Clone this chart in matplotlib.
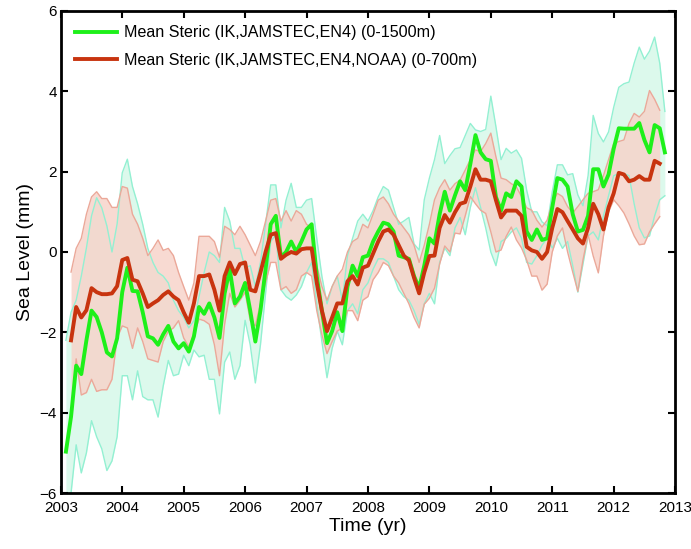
import numpy as np
import matplotlib
matplotlib.use("Agg")
import matplotlib.pyplot as plt

plt.rcParams['font.family'] = ['Liberation Sans', 'DejaVu Sans']

# monthly time axis, Feb 2003 .. Nov 2012
months = 2003 + np.arange(1, 119) / 12.0
nan = np.nan

# Mean steric 0-1500m (IK, JAMSTEC, EN4)
green_mean = [
    -4.97, -4.1, -2.83, -3.04, -2.2, -1.46, -1.62, -2.0, -2.5, -2.6, -2.15,
    -1.0, -0.39, -0.97, -0.98, -1.5, -2.1, -2.15, -2.31, -2.05, -1.84, -2.23, -2.4,
    -2.27, -2.48, -2.1, -1.37, -1.54, -1.28, -1.63, -2.14, -1.03, -0.43, -1.28, -1.11,
    -0.77, -1.46, -2.23, -1.46, -0.43, 0.69, 0.9, -0.13, 0.0, 0.26, 0.0, 0.26,
    0.56, 0.69, -0.6, -1.46, -2.27, -1.97, -1.5, -1.97, -0.86, -0.34, -0.6, -0.13,
    -0.09, 0.26, 0.51, 0.73, 0.69, 0.51, -0.09, -0.13, -0.17, -0.6, -0.9, -0.34,
    0.34, 0.21, 0.94, 1.5, 1.03, 1.41, 1.76, 1.54, 2.19, 2.91, 2.48, 2.31,
    2.27, 1.37, 1.03, 1.46, 1.37, 1.76, 1.63, 0.51, 0.3, 0.56, 0.3, 0.34,
    1.11, 1.84, 1.8, 1.63, 0.94, 0.51, 0.55, 0.9, 2.06, 2.06, 1.63, 1.93,
    2.57, 3.08, 3.07, 3.07, 3.07, 3.21, 2.79, 2.48, 3.16, 3.08, 2.48,
]
green_upper = [
    -2.2, -1.5, -1.2, -0.6, 0.1, 0.9, 1.35, 1.1, 0.65, 0.0, 0.7,
    1.97, 2.31, 1.63, 1.2, 0.69, 0.09, -0.26, -0.51, -0.6, -0.77, -1.2, -1.46,
    -1.63, -1.89, -1.71, -1.11, -0.51, 0.0, -0.09, -0.26, 1.11, 0.77, 0.09, 0.09,
    -0.4, -0.34, -0.86, -0.26, 0.69, 1.67, 1.67, 0.6, 1.29, 1.71, 1.11, 1.11,
    1.29, 1.33, 0.34, -0.6, -1.29, -0.86, -0.6, -1.2, -0.09, 0.34, 0.77, 0.94,
    0.77, 1.03, 1.37, 1.63, 1.54, 1.11, 0.69, 0.77, 0.86, 0.2, 0.05, 1.3,
    1.84, 2.3, 2.9, 2.2, 2.4, 2.57, 2.6, 2.9, 3.2, 3.04, 3.0, 3.05,
    3.88, 3.12, 2.3, 2.58, 2.46, 2.54, 2.33, 1.54, 1.0, 1.0, 0.75, 0.65,
    1.5, 2.17, 2.17, 1.92, 1.95, 1.42, 1.15, 1.9, 3.4, 2.95, 2.74, 2.99,
    3.6, 4.1, 4.19, 4.23, 4.7, 5.1, 4.8, 5.0, 5.35, 4.7, 3.5,
]
green_lower = [
    -6.6, -6.0, -4.8, -5.5, -5.0, -4.2, -4.6, -4.9, -5.44, -5.2, -4.6,
    -3.08, -3.08, -3.68, -2.96, -3.6, -3.68, -3.68, -4.11, -3.34, -2.7, -3.08, -3.04,
    -2.57, -2.83, -2.44, -2.61, -2.57, -3.17, -3.17, -4.03, -2.74, -2.49, -3.17, -2.83,
    -1.7, -2.31, -3.26, -2.31, -1.03, 0.26, 0.43, -0.94, -1.11, -1.2, -1.07, -0.86,
    -0.51, -0.26, -1.29, -2.23, -3.13, -2.4, -1.97, -2.31, -1.46, -1.29, -1.54, -0.94,
    -0.77, -0.43, -0.17, -0.17, -0.26, -0.6, -0.94, -1.11, -1.2, -1.46, -1.8, -1.29,
    -1.03, -1.29, -0.26, 0.1, -0.09, 0.6, 0.86, 0.43, 1.11, 1.6, 1.11, 0.6,
    0.0, -0.34, 0.26, 0.34, 0.5, 0.6, 0.34, -0.26, -0.3, -0.09, 0.17, 0.34,
    0.1, 0.34, 0.09, 0.26, -0.34, -1.0, -0.3, 0.4, 0.5, 0.3, 0.9, 1.4,
    1.9, 1.95, 1.95, 1.9, 1.2, 0.6, 0.35, 0.4, 0.9, 1.3, 1.4,
]

# Mean steric 0-700m (IK, JAMSTEC, EN4, NOAA)
red_mean = [
    nan, -2.2, -1.37, -1.63, -1.45, -0.9, -1.0, -1.05, -1.05, -1.03, -0.85,
    -0.2, -0.15, -0.69, -0.73, -1.03, -1.37, -1.28, -1.2, -1.07, -0.98, -1.11, -1.2,
    -1.5, -1.76, -1.28, -0.6, -0.6, -0.56, -0.94, -1.46, -0.6, -0.26, -0.55, -0.3,
    -0.26, -0.94, -0.98, -0.51, 0.0, 0.43, 0.47, -0.17, -0.07, 0.0, -0.04, 0.07,
    0.09, 0.09, -0.77, -1.46, -1.97, -1.63, -1.28, -1.28, -0.73, -0.6, -0.81, -0.39,
    -0.34, -0.04, 0.26, 0.51, 0.56, 0.43, 0.17, -0.09, -0.21, -0.64, -1.03, -0.51,
    -0.1, -0.09, 0.6, 0.92, 0.73, 0.99, 1.2, 1.24, 1.63, 2.06, 1.8, 1.8,
    1.76, 1.29, 0.86, 1.03, 1.03, 1.03, 0.9, 0.13, 0.04, 0.0, -0.17, 0.0,
    0.6, 1.07, 0.99, 0.77, 0.56, 0.34, 0.21, 0.6, 1.2, 0.94, 0.56, 1.11,
    1.46, 1.97, 1.93, 1.76, 1.8, 1.89, 1.8, 1.8, 2.27, 2.2, nan,
]
red_upper = [
    nan, -0.5, 0.09, 0.34, 0.94, 1.37, 1.5, 1.33, 1.33, 1.11, 1.11,
    1.63, 1.59, 0.94, 0.69, 0.34, -0.09, 0.09, 0.3, 0.04, 0.09, -0.09, -0.51,
    -0.86, -1.2, -0.77, 0.39, 0.39, 0.39, 0.26, -0.13, 0.64, 0.56, 0.43, 0.64,
    0.43, 0.17, -0.09, 0.26, 0.77, 1.29, 1.33, 0.77, 1.03, 0.77, 1.03, 0.94,
    0.69, 0.6, -0.34, -0.86, -1.2, -0.86, -0.6, -0.43, 0.0, 0.26, 0.34, 0.69,
    0.6, 0.94, 1.29, 1.37, 1.2, 0.94, 0.77, 0.6, 0.43, 0.17, -0.26, 0.17,
    0.69, 1.3, 1.6, 1.8, 1.54, 1.7, 1.79, 2.04, 2.3, 2.54, 2.5, 2.7,
    2.96, 2.37, 1.84, 1.8, 1.7, 1.62, 1.38, 1.1, 1.04, 0.79, 0.62, 0.79,
    1.21, 1.46, 1.38, 1.13, 0.97, 1.13, 1.3, 1.46, 1.5, 1.55, 1.9, 2.3,
    2.7, 2.75, 2.79, 3.2, 3.45, 3.36, 3.5, 4.02, 3.8, 3.53, nan,
]
red_lower = [
    nan, -4.1, -2.66, -3.56, -3.5, -3.17, -3.47, -3.43, -3.43, -3.17, -2.14,
    -1.84, -1.89, -2.4, -1.89, -2.23, -2.66, -2.7, -2.74, -2.23, -1.97, -1.89, -1.71,
    -2.14, -2.36, -2.06, -1.67, -1.71, -1.8, -2.31, -3.08, -1.8, -1.03, -1.37, -1.2,
    -1.0, -1.71, -1.84, -1.29, -0.77, -0.26, -0.26, -0.94, -0.86, -1.03, -0.94, -0.6,
    -0.51, -0.6, -1.46, -2.06, -2.53, -2.23, -1.97, -1.89, -1.46, -1.46, -1.71, -1.2,
    -1.11, -0.69, -0.51, -0.26, -0.34, -0.6, -0.77, -1.03, -1.29, -1.63, -1.89, -1.3,
    -1.15, -0.9, -0.3, 0.15, 0.0, 0.47, 0.45, 0.9, 1.38, 1.2, 1.04, 0.96,
    0.5, 0.0, 0.05, 0.39, 0.62, 0.3, 0.1, -0.2, -0.6, -0.6, -0.95, -0.8,
    0.0, 0.4, 0.6, 0.0, -0.5, -0.98, -0.2, 0.43, -0.1, -0.52, 0.4, 1.0,
    1.3, 1.15, 0.97, 0.7, 0.4, 0.18, 0.2, 0.5, 0.7, 0.88, nan,
]

labels = ["Mean Steric (IK,JAMSTEC,EN4) (0-1500m)",
          "Mean Steric (IK,JAMSTEC,EN4,NOAA) (0-700m)"]

fig = plt.figure(figsize=(6.91, 5.49), dpi=100)
ax = fig.add_axes([0.088, 0.102, 0.889, 0.878])

gu, gl = np.array(green_upper), np.array(green_lower)
ru, rl = np.array(red_upper), np.array(red_lower)

# shaded spread of the products
ax.fill_between(months, gl, gu, color="#dcf9ec", lw=0)
ax.fill_between(months, rl, ru, color="#f7d4ca", alpha=0.85, lw=0)
for band in (gu, gl):
    ax.plot(months, band, color="#93f0d2", lw=1.0)
for band in (ru, rl):
    ax.plot(months, band, color="#eba899", lw=1.0)

ax.plot(months, green_mean, color="#1ef01a", lw=2.8, label=labels[0])
ax.plot(months, red_mean, color="#c8340f", lw=2.8, label=labels[1])

ax.set_xlim(2003, 2013)
ax.set_ylim(-6, 6)
ax.set_xticks(np.arange(2003, 2014))
ax.set_yticks(np.arange(-6, 7, 2))
ax.tick_params(direction="in", top=True, right=True, length=5, width=1.5,
               labelsize=11)
ax.tick_params(axis="x", pad=6)
ax.tick_params(axis="y", pad=3)
for s in ax.spines.values():
    s.set_linewidth(2)

ax.set_xlabel("Time (yr)", fontsize=14, labelpad=2)
ax.set_ylabel("Sea Level (mm)", fontsize=14, labelpad=4)

ax.legend(loc="upper left", frameon=False, fontsize=11.6, handlelength=2.6,
          handletextpad=0.4, labelspacing=0.75, borderaxespad=0.5)

fig.savefig("out.png", dpi=100)
